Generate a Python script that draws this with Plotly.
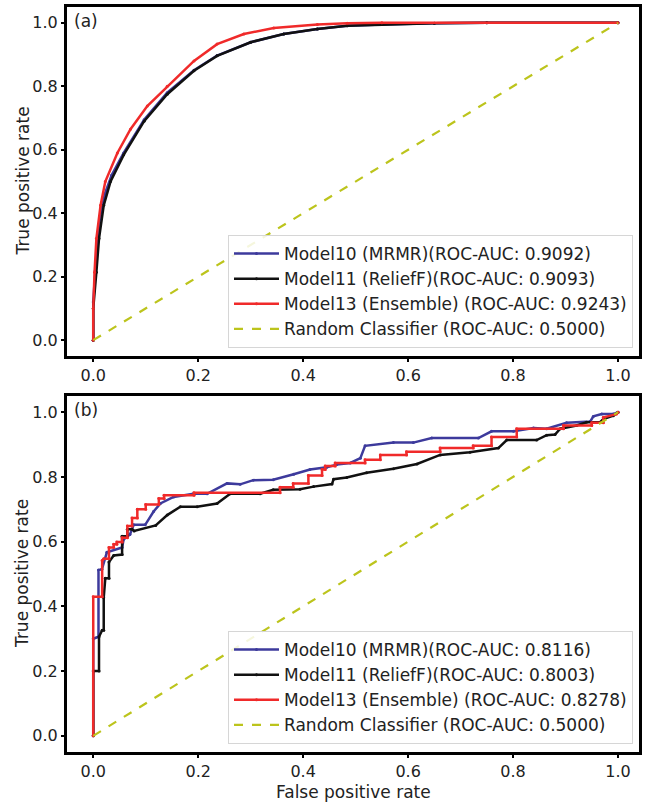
import plotly.graph_objects as go
from plotly.subplots import make_subplots

# ---- panel (a) ----
a_m10_fpr = [0, 0.0, 0.004, 0.008, 0.013, 0.022, 0.035, 0.058, 0.097, 0.141, 0.192, 0.236, 0.30, 0.363, 0.427, 0.484, 0.55, 0.65, 0.75, 1.0]
a_m10_tpr = [0, 0.12, 0.22, 0.31, 0.39, 0.46, 0.52, 0.59, 0.695, 0.78, 0.851, 0.897, 0.939, 0.965, 0.981, 0.991, 0.995, 0.999, 1.0, 1.0]
a_m11_fpr = [0, 0.0, 0.006, 0.011, 0.020, 0.033, 0.058, 0.097, 0.141, 0.192, 0.236, 0.30, 0.363, 0.427, 0.484, 0.55, 0.65, 0.75, 1.0]
a_m11_tpr = [0, 0.10, 0.214, 0.32, 0.425, 0.50, 0.584, 0.69, 0.775, 0.849, 0.896, 0.939, 0.965, 0.981, 0.991, 0.995, 0.999, 1.0, 1.0]
a_m13_fpr = [0, 0.0, 0.0025, 0.006, 0.014, 0.023, 0.046, 0.071, 0.103, 0.141, 0.192, 0.236, 0.287, 0.344, 0.427, 0.484, 0.55, 1.0]
a_m13_tpr = [0, 0.10, 0.214, 0.32, 0.425, 0.50, 0.59, 0.665, 0.738, 0.80, 0.88, 0.933, 0.965, 0.984, 0.995, 0.999, 1.0, 1.0]

# ---- panel (b) ----
b_m10_fpr = [0, 0.0, 0.01, 0.01, 0.0165, 0.026, 0.055, 0.058, 0.07, 0.077, 0.099, 0.115, 0.128, 0.153, 0.191, 0.217, 0.255, 0.28, 0.305, 0.343,
             0.382, 0.413, 0.445, 0.464, 0.49, 0.509, 0.518, 0.572, 0.61, 0.645, 0.734, 0.759, 0.801, 0.839, 0.864, 0.902, 0.947, 0.953, 0.969, 0.991, 1.0]
b_m10_tpr = [0, 0.30, 0.306, 0.512, 0.515, 0.567, 0.582, 0.607, 0.622, 0.652, 0.652, 0.693, 0.718, 0.738, 0.748, 0.748, 0.78, 0.777, 0.79, 0.791,
             0.808, 0.823, 0.83, 0.838, 0.843, 0.858, 0.896, 0.906, 0.906, 0.92, 0.92, 0.941, 0.941, 0.951, 0.949, 0.967, 0.971, 0.987, 0.994, 0.994, 1.0]
b_m11_fpr = [0, 0.0, 0.011, 0.011, 0.017, 0.02, 0.02, 0.023, 0.03, 0.03, 0.039, 0.055, 0.055, 0.065, 0.065, 0.074, 0.078, 0.119, 0.141, 0.166, 0.198,
             0.236, 0.261, 0.318, 0.343, 0.394, 0.42, 0.455, 0.458, 0.483, 0.521, 0.572, 0.617, 0.661, 0.718, 0.772, 0.788, 0.845, 0.864, 0.88, 0.89,
             0.921, 0.94, 0.966, 0.972, 0.991, 1.0]
b_m11_tpr = [0, 0.20, 0.20, 0.306, 0.326, 0.326, 0.427, 0.487, 0.487, 0.537, 0.557, 0.56, 0.617, 0.617, 0.638, 0.638, 0.633, 0.65, 0.682, 0.708, 0.708,
             0.718, 0.748, 0.748, 0.76, 0.762, 0.77, 0.778, 0.793, 0.798, 0.813, 0.825, 0.84, 0.868, 0.876, 0.889, 0.914, 0.914, 0.929, 0.931, 0.949,
             0.959, 0.969, 0.969, 0.979, 0.989, 1.0]
b_m13_fpr = [0, 0.0, 0.017, 0.017, 0.020, 0.030, 0.030, 0.039, 0.039, 0.045, 0.045, 0.055, 0.055, 0.065, 0.065, 0.074, 0.074, 0.084, 0.084, 0.10, 0.10,
             0.125, 0.125, 0.135, 0.135, 0.192, 0.192, 0.356, 0.356, 0.381, 0.381, 0.41, 0.41, 0.436, 0.436, 0.442, 0.442, 0.461, 0.461, 0.518, 0.518,
             0.547, 0.547, 0.597, 0.597, 0.661, 0.661, 0.724, 0.724, 0.759, 0.759, 0.807, 0.807, 0.896, 0.896, 0.95, 0.95, 0.972, 0.972, 0.997, 1.0]
b_m13_tpr = [0, 0.43, 0.43, 0.542, 0.547, 0.547, 0.582, 0.582, 0.592, 0.592, 0.599, 0.599, 0.612, 0.612, 0.648, 0.648, 0.673, 0.673, 0.70, 0.70, 0.715,
             0.715, 0.733, 0.733, 0.743, 0.743, 0.751, 0.751, 0.768, 0.768, 0.78, 0.78, 0.804, 0.804, 0.823, 0.823, 0.834, 0.834, 0.843, 0.843, 0.853,
             0.853, 0.868, 0.868, 0.878, 0.878, 0.889, 0.889, 0.896, 0.896, 0.923, 0.923, 0.949, 0.949, 0.959, 0.959, 0.967, 0.967, 0.984, 0.994, 1.0]

rand_fpr = [0, 1]
rand_tpr = [0, 1]

names_a = ["Model10 (MRMR)(ROC-AUC: 0.9092)", "Model11 (ReliefF)(ROC-AUC: 0.9093)",
           "Model13 (Ensemble) (ROC-AUC: 0.9243)", "Random Classifier (ROC-AUC: 0.5000)"]
names_b = ["Model10 (MRMR)(ROC-AUC: 0.8116)", "Model11 (ReliefF)(ROC-AUC: 0.8003)",
           "Model13 (Ensemble) (ROC-AUC: 0.8278)", "Random Classifier (ROC-AUC: 0.5000)"]
colors = ["#3d3a9c", "#111111", "#f02a2a"]
rand_color = "#bcc41c"
x_ticks = [0.0, 0.2, 0.4, 0.6, 0.8, 1.0]

W, H = 646, 803
FONT = "DejaVu Sans"

fig = make_subplots(rows=2, cols=1)

panels = [
    (1, "legend", names_a, [(a_m10_fpr, a_m10_tpr), (a_m11_fpr, a_m11_tpr), (a_m13_fpr, a_m13_tpr)]),
    (2, "legend2", names_b, [(b_m10_fpr, b_m10_tpr), (b_m11_fpr, b_m11_tpr), (b_m13_fpr, b_m13_tpr)]),
]
for row, leg, names, curves in panels:
    for (fx, ty), name, col in zip(curves, names, colors):
        fig.add_trace(go.Scatter(x=fx, y=ty, name=name, mode="lines+markers",
                                 line=dict(color=col, width=2.5),
                                 marker=dict(color=col, size=3),
                                 legend=leg), row=row, col=1)
    fig.add_trace(go.Scatter(x=rand_fpr, y=rand_tpr, name=names[3], mode="lines",
                             line=dict(color=rand_color, width=2.2, dash="dash"),
                             legend=leg), row=row, col=1)

# panel boxes in pixels (top, bottom)
top_a, bot_a = 7, 356
top_b, bot_b = 396, 752
x_dom = [67 / W, 639 / W]
axis_common = dict(showline=True, linewidth=3, linecolor="black", mirror=True,
                   ticks="outside", ticklen=3, tickwidth=2, tickcolor="black",
                   showgrid=False, zeroline=False, automargin=False,
                   tickfont=dict(family=FONT, size=16, color="#222"))

fig.update_xaxes(range=[-0.05, 1.04], tickvals=x_ticks, tickformat=".1f", domain=x_dom, **axis_common)
fig.update_yaxes(range=[-0.05, 1.05], tickvals=x_ticks, tickformat=".1f", **axis_common)
fig.update_layout(
    yaxis=dict(domain=[1 - bot_a / H, 1 - top_a / H]),
    yaxis2=dict(domain=[1 - bot_b / H, 1 - top_b / H]),
)

title_font = dict(family=FONT, size=17, color="#222")
for top, bot in [(top_a, bot_a), (top_b, bot_b)]:
    fig.add_annotation(text="True positive rate", xref="paper", yref="paper",
                       x=22 / W, y=1 - (top + bot) / 2 / H, textangle=-90,
                       xanchor="center", yanchor="middle",
                       showarrow=False, font=title_font)
fig.add_annotation(text="False positive rate", xref="paper", yref="paper",
                   x=(x_dom[0] + x_dom[1]) / 2, y=0, yanchor="bottom", borderpad=0,
                   showarrow=False, font=title_font)

legend_style = dict(font=dict(family=FONT, size=17, color="#222"), bgcolor="rgba(255,255,255,0.85)",
                    bordercolor="#d6d6d6", borderwidth=1, xanchor="right", yanchor="bottom",
                    tracegroupgap=0, itemwidth=45)
fig.update_layout(
    width=W, height=H,
    margin=dict(l=0, r=0, t=0, b=0),
    paper_bgcolor="white", plot_bgcolor="white",
    font=dict(family=FONT, color="#222"),
    legend=dict(x=633 / W, y=1 - 348 / H, **legend_style),
    legend2=dict(x=633 / W, y=1 - 744 / H, **legend_style),
    showlegend=True,
)

for ax, lab in [("", "(a)"), ("2", "(b)")]:
    fig.add_annotation(text=lab, xref=f"x{ax} domain", yref=f"y{ax} domain", x=0.008, y=0.995,
                       xanchor="left", yanchor="top", showarrow=False,
                       font=dict(family=FONT, size=17, color="#222"))

# page body has a default 8px margin; remove it so the figure fills the window
fig.write_html("out.html", config={"displayModeBar": False},
               post_script="document.body.style.margin='0';document.body.style.overflow='hidden';")
